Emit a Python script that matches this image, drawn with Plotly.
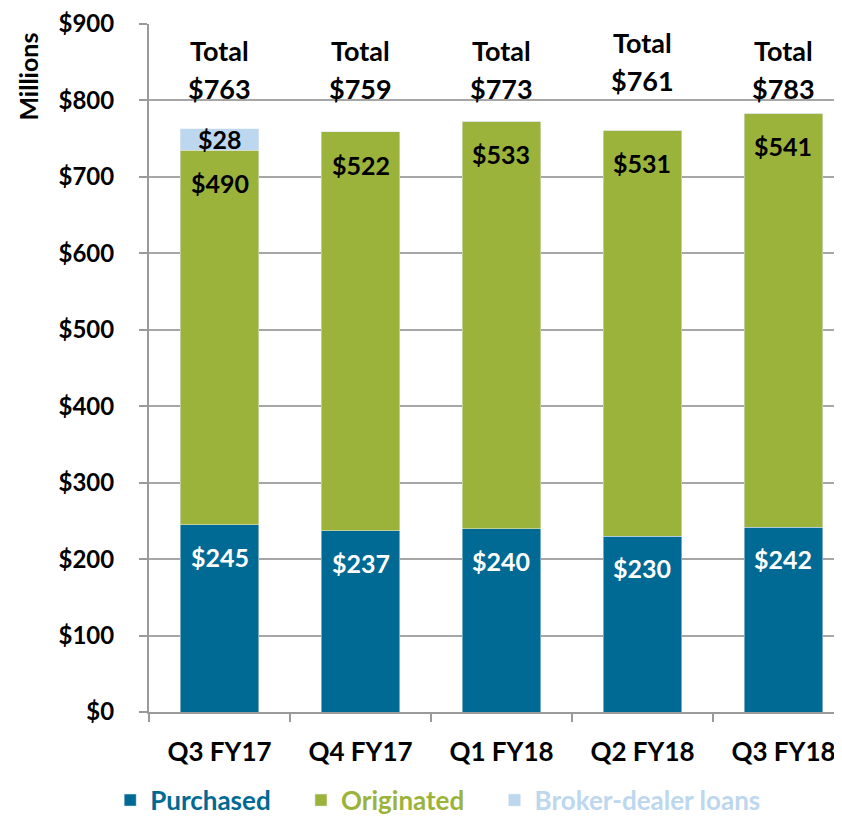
import plotly.graph_objects as go

categories = ["Q3 FY17", "Q4 FY17", "Q1 FY18", "Q2 FY18", "Q3 FY18"]
purchased = [245, 237, 240, 230, 242]
originated = [490, 522, 533, 531, 541]
broker_dealer = [28, 0, 0, 0, 0]
totals = [763, 759, 773, 761, 783]

C_PUR = "#006A94"
C_ORI = "#9BB33B"
C_BRK = "#BDD7EE"
FONT = "Lato"
PAD = "\u00a0" * 4

def f(size, color="black"):
    return dict(color=color, size=size, family=FONT, weight="bold")

fig = go.Figure()
fig.add_trace(go.Bar(x=categories, y=purchased, marker_color=C_PUR,
                     name=f"<span style='color:{C_PUR}'>Purchased</span>{PAD}"))
fig.add_trace(go.Bar(x=categories, y=originated, marker_color=C_ORI,
                     name=f"<span style='color:{C_ORI}'>Originated</span>{PAD}"))
fig.add_trace(go.Bar(x=categories, y=broker_dealer, marker_color=C_BRK,
                     name=f"<span style='color:{C_BRK}'>Broker-dealer loans</span>"))

# value labels
for i, c in enumerate(categories):
    fig.add_annotation(x=c, y=purchased[i], text=f"${purchased[i]}", showarrow=False,
                       yanchor="top", yshift=-15, font=f(25, "white"))
    fig.add_annotation(x=c, y=purchased[i] + originated[i], text=f"${originated[i]}", showarrow=False,
                       yanchor="top", yshift=-16, font=f(25))
    if broker_dealer[i]:
        fig.add_annotation(x=c, y=purchased[i] + originated[i] + broker_dealer[i] / 2,
                           text=f"${broker_dealer[i]}", showarrow=False, yanchor="middle",
                           font=f(25))
    lift = 8 if i == 3 else 0
    fig.add_annotation(x=c, y=869, text="Total", showarrow=False,
                       yanchor="middle", yshift=lift - 3, font=f(27))
    fig.add_annotation(x=c, y=816, text=f"${totals[i]}", showarrow=False,
                       yanchor="middle", yshift=lift, font=f(27))

fig.add_annotation(xref="paper", yref="paper", x=-0.175, y=0.99, text="Millions",
                   textangle=-90, showarrow=False, xanchor="center", yanchor="top",
                   font=f(25))

fig.update_layout(
    barmode="stack",
    bargap=0.44,
    width=834, height=808,
    margin=dict(l=141, r=0, t=16, b=104, autoexpand=False),
    plot_bgcolor="white", paper_bgcolor="white",
    font=dict(family=FONT, size=24, color="black", weight="bold"),
    showlegend=True,
    legend=dict(orientation="h", x=-0.056, xanchor="left", y=-0.094, yanchor="top",
                font=f(26), itemwidth=30, traceorder="normal"),
)
fig.update_xaxes(range=[-0.5, 4.415], showline=True, linecolor="#9A9A9A", linewidth=2,
                 ticks="outside", tickson="boundaries", ticklen=8, tickcolor="#9A9A9A",
                 tickwidth=2, ticklabelstandoff=16, automargin=False,
                 tickfont=f(26))
fig.update_yaxes(range=[0, 900], dtick=100, tickprefix="$", showline=True,
                 linecolor="#9A9A9A", linewidth=2, gridcolor="#A6A6A6", gridwidth=2,
                 ticks="outside", ticklen=8, tickcolor="#9A9A9A", tickwidth=2,
                 ticklabelstandoff=20, zeroline=False, automargin=False,
                 tickfont=f(24))

fig.write_html("out.html")
